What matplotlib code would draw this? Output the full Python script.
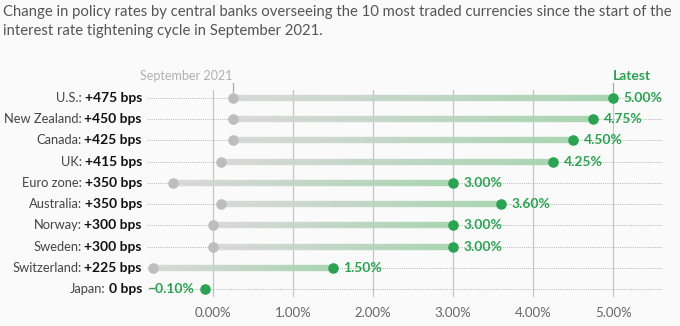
import matplotlib
matplotlib.use("Agg")
import matplotlib.pyplot as plt
import numpy as np
from matplotlib.collections import LineCollection
from matplotlib.colors import LinearSegmentedColormap

plt.rcParams["font.family"] = ["Lato", "DejaVu Sans"]

# データ
countries = ["U.S.", "New Zealand", "Canada", "UK", "Euro zone", "Australia",
             "Norway", "Sweden", "Switzerland", "Japan"]
changes = ["+475 bps", "+450 bps", "+425 bps", "+415 bps", "+350 bps", "+350 bps",
           "+300 bps", "+300 bps", "+225 bps", "0 bps"]
start_rates = [0.25, 0.25, 0.25, 0.10, -0.50, 0.10, 0.00, 0.00, -0.75, -0.10]
latest_rates = [5.00, 4.75, 4.50, 4.25, 3.00, 3.60, 3.00, 3.00, 1.50, -0.10]
xticks = [0, 1, 2, 3, 4, 5]

BG = "#fafafa"
GREEN = "#2ca353"
GREY_DOT = "#bdbdbd"
cmap = LinearSegmentedColormap.from_list("g", ["#d6d6d6", "#a2d2ab"])

fig = plt.figure(figsize=(6.8, 3.26), dpi=100, facecolor=BG)
ax = fig.add_axes([147 / 680, 1 - 297 / 326, (662 - 147) / 680, (297 - 90) / 326])
ax.set_facecolor(BG)
x0, x1 = -0.825, 5.61
ax.set_xlim(x0, x1)
n = len(countries)
ax.set_ylim(n - 1 + 0.38, -0.38)
for s in ax.spines.values():
    s.set_visible(False)
ax.set_yticks([])
ax.set_xticks(xticks)
ax.set_xticklabels([f"{t:.2f}%" for t in xticks], color="#666666", fontsize=9.5)
ax.tick_params(axis="x", length=0, pad=7)

# 縦グリッド
for t in xticks:
    ax.axvline(t, color="#c4c4c4", lw=0.9, zorder=1)

for i in range(n):
    # 点線
    ax.plot([x0, x1], [i, i], color="#b5b5b5", lw=0.7, ls=(0, (1, 1.2)), zorder=0.5)
    a, b = start_rates[i], latest_rates[i]
    if a != b:
        xs = np.linspace(a, b, 60)
        segs = [[(xs[k], i), (xs[k + 1], i)] for k in range(len(xs) - 1)]
        lc = LineCollection(segs, colors=cmap(np.linspace(0, 1, len(segs))),
                            lw=4.6, zorder=2, capstyle="butt", alpha=0.9)
        ax.add_collection(lc)
        ax.scatter([a], [i], s=58, color=GREY_DOT, zorder=3, lw=0)
        ax.text(b + 0.13, i, f"{b:.2f}%", color=GREEN, fontsize=10, fontweight="bold",
                va="center", ha="left", zorder=4)
    else:
        ax.text(b - 0.14, i, f"\u2212{abs(b):.2f}%", color=GREEN, fontsize=10,
                fontweight="bold", va="center", ha="right", zorder=4)
    ax.scatter([b], [i], s=58, color=GREEN, zorder=3, lw=0)

# 左ラベル
fig.canvas.draw()
renderer = fig.canvas.get_renderer()
lx = 142 / 680
for i in range(n):
    yd = ax.transData.transform((0, i))[1]
    yf = fig.transFigure.inverted().transform((0, yd))[1]
    tb = fig.text(lx, yf, changes[i], fontsize=10, fontweight="bold", color="#111111",
                  ha="right", va="center")
    ext = tb.get_window_extent(renderer)
    xl = fig.transFigure.inverted().transform((ext.x0, 0))[0]
    fig.text(xl - 3 / 680, yf, countries[i] + ":", fontsize=9.3, color="#444444",
             ha="right", va="center")

# 上の注記
xs_d = ax.transData.transform((0.25, 0))[0] / 680
xe_d = ax.transData.transform((5.0, 0))[0] / 680
fig.add_artist(plt.Line2D([xs_d, xs_d], [1 - 83 / 326, 1 - 92 / 326], color="#aaaaaa", lw=0.9))
fig.add_artist(plt.Line2D([xe_d, xe_d], [1 - 83 / 326, 1 - 92 / 326], color="#aaaaaa", lw=0.9))
fig.text(xs_d - 1 / 680, 1 - 76 / 326, "September 2021", fontsize=9, color="#b0b0b0",
         ha="right", va="center")
fig.text(xe_d, 1 - 76 / 326, "Latest", fontsize=10, color=GREEN, fontweight="bold",
         ha="left", va="center")

# タイトル
fig.text(3 / 680, 1 - 12 / 326,
         "Change in policy rates by central banks overseeing the 10 most traded currencies since the start of the",
         fontsize=10.7, color="#555555", ha="left", va="center")
fig.text(3 / 680, 1 - 31 / 326, "interest rate tightening cycle in September 2021.",
         fontsize=10.7, color="#555555", ha="left", va="center")

fig.savefig("out.png", dpi=100, facecolor=BG)
